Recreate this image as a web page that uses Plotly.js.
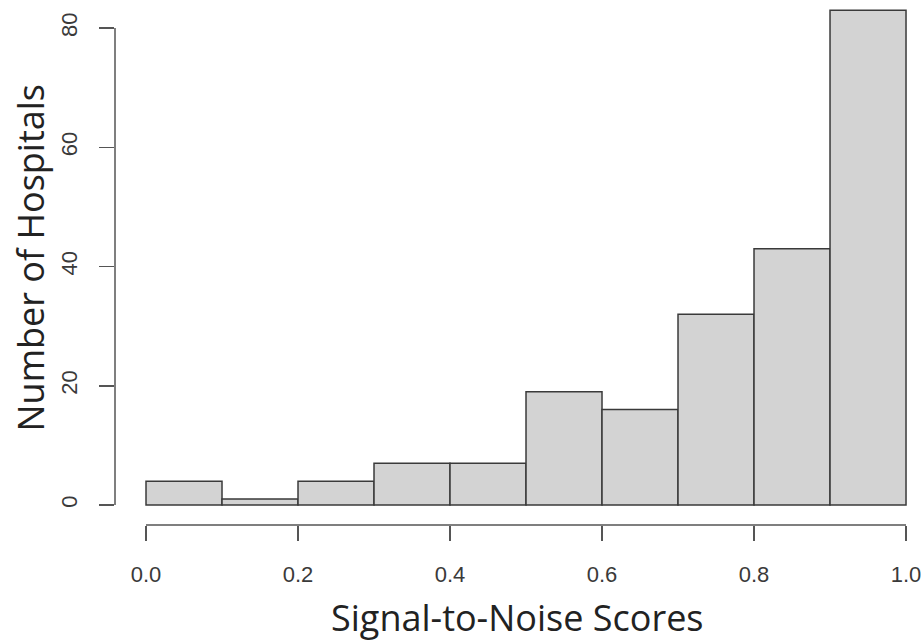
<!DOCTYPE html>
<html>
<head>
<meta charset="utf-8">
<script src="https://cdn.plot.ly/plotly-3.0.1.min.js"></script>
<style>html,body{margin:0;padding:0;background:#fff;}#chart{width:923px;height:643px;}</style>
</head>
<body>
<div id="chart"></div>
<script>
// Histogram bins (left edges) and counts
var binStarts = [0.0, 0.1, 0.2, 0.3, 0.4, 0.5, 0.6, 0.7, 0.8, 0.9];
var binWidth = 0.1;
var counts = [4, 1, 4, 7, 7, 19, 16, 32, 43, 83];
var xTickVals = [0, 0.2, 0.4, 0.6, 0.8, 1.0];
var xTickText = ["0.0", "0.2", "0.4", "0.6", "0.8", "1.0"];
var yTickVals = [0, 20, 40, 60, 80];
var yTickText = ["0", "20", "40", "60", "80"];
var xTitle = "Signal-to-Noise Scores";
var yTitle = "Number of Hospitals";

var centers = binStarts.map(function (s) { return s + binWidth / 2; });

var axisColor = "#555555";
var trace = {
  type: "bar",
  x: centers,
  y: counts,
  width: binStarts.map(function () { return binWidth; }),
  marker: { color: "#d3d3d3", line: { color: "#3a3a3a", width: 1.5 } },
  hoverinfo: "x+y"
};

var layout = {
  width: 923, height: 643,
  margin: { l: 115, r: 3, t: 0, b: 118, pad: 0 },
  paper_bgcolor: "#ffffff", plot_bgcolor: "#ffffff",
  showlegend: false,
  bargap: 0,
  xaxis: {
    range: [-0.0408, 1.0184],
    tickvals: xTickVals, ticktext: xTickText,
    ticks: "outside", ticklen: 15, tickwidth: 1.5, tickcolor: axisColor,
    showline: false, zeroline: false, showgrid: false,
    tickfont: { family: "Liberation Sans, Arial, sans-serif", size: 22, color: "#3a3a3a" },
    ticklabelstandoff: 15,
    fixedrange: true
  },
  yaxis: {
    range: [-3.354, 84.7],
    tickvals: yTickVals, ticktext: yTickText,
    ticks: "outside", ticklen: 15, tickwidth: 1.5, tickcolor: axisColor,
    showline: false, zeroline: false, showgrid: false,
    tickangle: -90,
    tickfont: { family: "Liberation Sans, Arial, sans-serif", size: 22, color: "#3a3a3a" },
    ticklabelstandoff: 13,
    fixedrange: true
  },
  shapes: [
    { type: "line", xref: "x", yref: "paper", x0: xTickVals[0], x1: xTickVals[xTickVals.length - 1], y0: 0, y1: 0,
      line: { color: axisColor, width: 1.5 } },
    { type: "line", xref: "paper", yref: "y", x0: 0, x1: 0, y0: yTickVals[0], y1: yTickVals[yTickVals.length - 1],
      line: { color: axisColor, width: 1.5 } }
  ],
  annotations: [
    { text: xTitle, xref: "paper", yref: "paper", x: 0.5, y: 0, xanchor: "center", yanchor: "middle",
      yshift: -92, showarrow: false,
      font: { family: "Open Sans, Noto Sans, sans-serif", size: 36, color: "#222222" } },
    { text: yTitle, xref: "paper", yref: "paper", x: 0, y: 0.5, xanchor: "center", yanchor: "middle",
      xshift: -85, yshift: 4, textangle: -90, showarrow: false,
      font: { family: "Open Sans, Noto Sans, sans-serif", size: 36, color: "#222222" } }
  ]
};

Plotly.newPlot("chart", [trace], layout, { displayModeBar: false, staticPlot: true });
</script>
</body>
</html>
